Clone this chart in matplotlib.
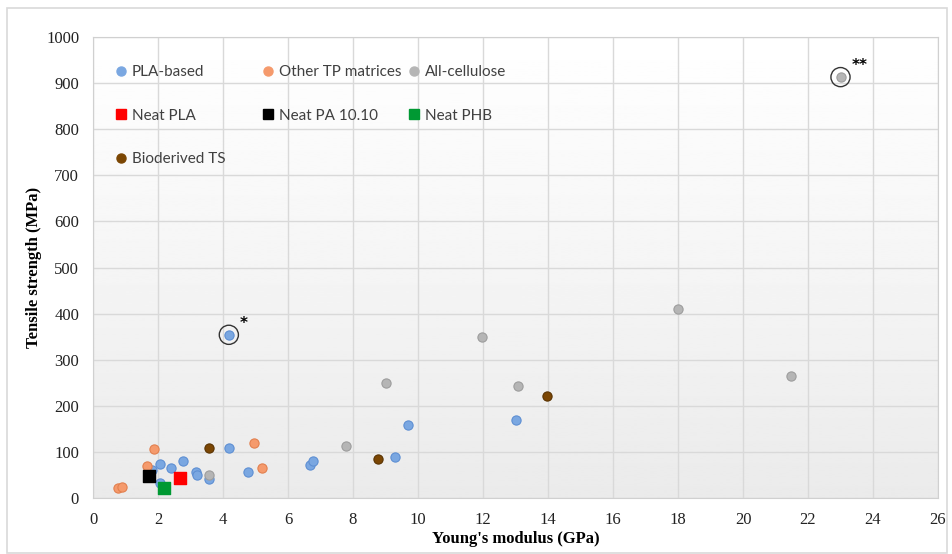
import matplotlib
matplotlib.use("Agg")
import matplotlib.pyplot as plt
import numpy as np
from matplotlib.lines import Line2D
from matplotlib.legend import Legend
from matplotlib.patches import Rectangle

# values (Young's modulus GPa, tensile strength MPa)
pla_x = [1.80, 2.06, 2.06, 2.39, 2.78, 3.17, 3.19, 3.57, 4.17, 4.18, 4.78, 6.68, 6.78, 9.29, 9.68, 13.0]
pla_y = [60, 73, 33, 64, 80, 57, 50, 42, 108, 354, 57, 72, 80, 89, 158, 170]

tp_x = [0.78, 0.88, 1.67, 1.89, 4.96, 5.19]
tp_y = [21, 24, 70, 107, 120, 65]

cell_x = [3.57, 7.78, 9.0, 11.98, 13.09, 18.0, 21.48, 23.0]
cell_y = [49, 113, 250, 350, 243, 411, 265, 913]

ts_x = [3.57, 8.78, 13.98]
ts_y = [108, 84, 221]

neat_pla = (2.68, 43)
neat_pa = (1.73, 48)
neat_phb = (2.19, 21)

# circled outliers and their footnote marks
circled = [(4.18, 354, "*"), (23.0, 913, "**")]

serif = "Liberation Serif"
sans = "Lato"

fig = plt.figure(figsize=(9.52, 5.54), dpi=100)
fig.patches.append(Rectangle((7 / 952, 0.002), 940 / 952, 1 - 8 / 554 - 0.002,
                             transform=fig.transFigure, fill=False,
                             edgecolor="#d9d9d9", linewidth=1.2))
ax = fig.add_axes([93 / 952, 1 - 498 / 554, 845 / 952, 461 / 554])

# soft vertical gradient of the plot area
grad = np.linspace(0.92, 1.0, 256).reshape(-1, 1)
ax.imshow(grad, cmap="gray", vmin=0, vmax=1, extent=[0, 1, 0, 1], aspect="auto",
          transform=ax.transAxes, origin="lower", zorder=0)

ms = 44
ax.scatter(pla_x, pla_y, s=ms, c="#7aa7e1", edgecolors="#5e8fd3", linewidths=0.8, zorder=3)
ax.scatter(tp_x, tp_y, s=ms, c="#f59a6c", edgecolors="#e2804f", linewidths=0.8, zorder=3)
ax.scatter(cell_x, cell_y, s=ms, c="#b5b5b5", edgecolors="#9d9d9d", linewidths=0.8, zorder=3)
ax.scatter(ts_x, ts_y, s=ms, c="#7b4603", edgecolors="#5a3302", linewidths=0.8, zorder=3)
ax.scatter(*neat_pla, s=70, marker="s", c="#ff0000", zorder=4)
ax.scatter(*neat_pa, s=70, marker="s", c="#000000", zorder=4)
ax.scatter(*neat_phb, s=70, marker="s", c="#009933", zorder=4)

for x, y, mark in circled:
    ax.scatter(x, y, s=190, facecolors="none", edgecolors="#333333", linewidths=1.0, zorder=5)
    ax.annotate(mark, (x, y), xytext=(8, 5), textcoords="offset points",
                fontsize=11, fontweight="bold", color="black", family="DejaVu Sans")

ax.set_xlim(0, 26)
ax.set_ylim(0, 1000)
ax.set_xticks(np.arange(0, 27, 2))
ax.set_yticks(np.arange(0, 1001, 100))
ax.grid(True, color="#d9d9d9", linewidth=1)
ax.set_axisbelow(True)
for sp in ax.spines.values():
    sp.set_color("#d0d0d0")
ax.tick_params(length=0, pad=10, labelsize=12, labelcolor="#222222")
for lab in ax.get_xticklabels() + ax.get_yticklabels():
    lab.set_family(serif)

ax.set_xlabel("Young's modulus (GPa)", family=serif, fontweight="bold", fontsize=12, labelpad=2)
ax.set_ylabel("Tensile strength (MPa)", family=serif, fontweight="bold", fontsize=12, labelpad=3)


def dot(color):
    return Line2D([], [], linestyle="none", marker="o", markersize=6.5, markerfacecolor=color,
                  markeredgecolor=color)


def sq(color):
    return Line2D([], [], linestyle="none", marker="s", markersize=7, markerfacecolor=color,
                  markeredgecolor=color)


columns = [
    ([dot("#7aa7e1"), sq("#ff0000"), dot("#7b4603")], ["PLA-based", "Neat PLA", "Bioderived TS"], 0.017),
    ([dot("#f59a6c"), sq("#000000")], ["Other TP matrices", "Neat PA 10.10"], 0.191),
    ([dot("#b5b5b5"), sq("#009933")], ["All-cellulose", "Neat PHB"], 0.364),
]
for handles, labels, x0 in columns:
    leg = Legend(ax, handles, labels, loc="upper left", bbox_to_anchor=(x0, 0.955),
                 frameon=False, handlelength=0.8, handletextpad=0.3, borderpad=0,
                 labelspacing=1.92, prop={"family": sans, "size": 11})
    for t in leg.get_texts():
        t.set_color("#404040")
    ax.add_artist(leg)

fig.savefig("out.png", dpi=100)
